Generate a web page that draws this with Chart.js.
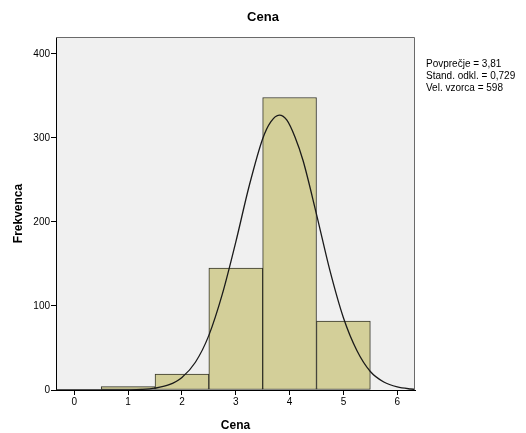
<!DOCTYPE html>
<html>
<head>
<meta charset="utf-8">
<script src="https://cdn.jsdelivr.net/npm/chart.js@4"></script>
<style>
  html, body { margin: 0; padding: 0; background: #fff; }
  #wrap { width: 526px; height: 433px; }
</style>
</head>
<body>
<div id="wrap"><canvas id="chart"></canvas></div>
<script>
// histogram bins (centre of each bin) and counts
const binCenters = [1, 2, 3, 4, 5];
const counts = [4, 19, 145, 348, 82];

// fitted normal curve, read at 0.25 steps (plus the peak)
const curveX = [-0.34, 0, 0.5, 1, 1.25, 1.5, 1.75, 2, 2.25, 2.5, 2.75, 3, 3.25, 3.5, 3.65, 3.81,
                3.95, 4.1, 4.25, 4.5, 4.75, 5, 5.25, 5.5, 5.75, 6, 6.25, 6.33];
const curveY = [0, 0, 0, 0.2, 0.7, 2.2, 6, 15, 33, 65, 114, 176, 243, 299, 319, 327,
                321, 301, 273, 209, 142, 86, 47, 22, 9.5, 3.6, 1.2, 0.8];

const xTicks = [0, 1, 2, 3, 4, 5, 6];
const yTicks = [0, 100, 200, 300, 400];
const chartTitle = 'Cena';
const statsLines = ['Povprečje = 3,81', 'Stand. odkl. = 0,729', 'Vel. vzorca = 598'];

const FONT = 'Arial, "Liberation Sans", sans-serif';

// grey plot background + frame, title and stats text
const frame = {
    id: 'frame',
    beforeDraw(chart) {
        const { ctx, chartArea: a } = chart;
        ctx.save();
        ctx.fillStyle = '#f0f0f0';
        ctx.fillRect(a.left, a.top, a.right - a.left, a.bottom - a.top);
        ctx.restore();
    },
    afterDraw(chart) {
        const { ctx, chartArea: a, width } = chart;
        ctx.save();
        ctx.strokeStyle = '#6a6a6a';
        ctx.lineWidth = 1;
        ctx.beginPath();
        ctx.moveTo(a.left, a.top + 0.5);
        ctx.lineTo(a.right - 0.5, a.top + 0.5);
        ctx.lineTo(a.right - 0.5, a.bottom);
        ctx.stroke();

        ctx.fillStyle = '#000';
        ctx.textBaseline = 'middle';
        ctx.textAlign = 'center';
        ctx.font = 'bold 13px ' + FONT;
        ctx.fillText(chartTitle, width / 2, 17);

        ctx.textAlign = 'left';
        ctx.font = '10px ' + FONT;
        statsLines.forEach((t, i) => ctx.fillText(t, a.right + 11, 64 + i * 12));
        ctx.restore();
    }
};

new Chart(document.getElementById('chart'), {
    type: 'bar',
    data: {
        datasets: [
            {
                type: 'line',
                data: curveX.map((x, i) => ({ x: x, y: curveY[i] })),
                borderColor: '#1a1a1a',
                borderWidth: 1.3,
                pointRadius: 0,
                fill: false,
                cubicInterpolationMode: 'monotone',
                order: 0
            },
            {
                data: binCenters.map((x, i) => ({ x: x, y: counts[i] })),
                backgroundColor: '#d3cf99',
                borderColor: '#34342a',
                borderWidth: 1,
                borderSkipped: false,
                barPercentage: 1,
                categoryPercentage: 1,
                order: 1
            }
        ]
    },
    options: {
        responsive: true,
        maintainAspectRatio: false,
        animation: false,
        layout: { padding: { left: 0, right: 111, top: 37, bottom: 0 } },
        plugins: {
            legend: { display: false },
            tooltip: { enabled: false },
            title: { display: false }
        },
        scales: {
            x: {
                type: 'linear',
                offset: false,
                min: -0.34,
                max: 6.33,
                afterBuildTicks: s => { s.ticks = xTicks.map(v => ({ value: v })); },
                afterFit: s => { s.height = 43; },
                grid: { drawOnChartArea: false, color: '#000', tickLength: 5, offset: false },
                border: { color: '#000', width: 1 },
                ticks: { color: '#000', font: { family: FONT, size: 10 }, padding: 1, maxRotation: 0 },
                title: {
                    display: true,
                    text: 'Cena',
                    color: '#000',
                    font: { family: FONT, size: 12, weight: 'bold' },
                    padding: { top: 4, bottom: 0 }
                }
            },
            y: {
                min: 0,
                max: 420,
                afterBuildTicks: s => { s.ticks = yTicks.map(v => ({ value: v })); },
                afterFit: s => { s.width = 56; },
                grid: { drawOnChartArea: false, color: '#000', tickLength: 5 },
                border: { color: '#000', width: 1 },
                ticks: { color: '#000', font: { family: FONT, size: 10 }, padding: 1 },
                title: {
                    display: true,
                    text: 'Frekvenca',
                    color: '#000',
                    font: { family: FONT, size: 12, weight: 'bold' },
                    padding: { top: 11, bottom: 0 }
                }
            }
        }
    },
    plugins: [frame]
});
</script>
</body>
</html>
